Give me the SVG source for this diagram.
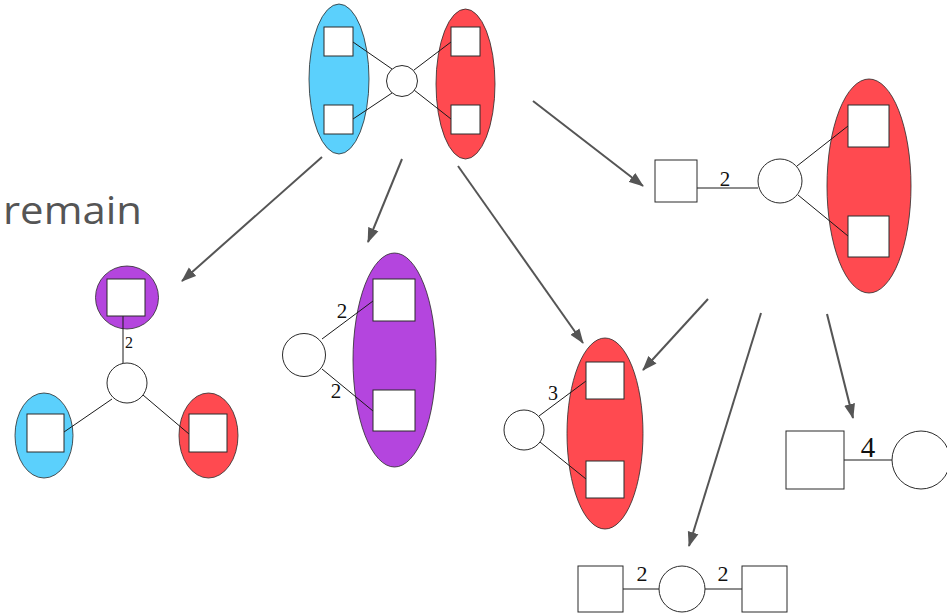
<svg xmlns="http://www.w3.org/2000/svg" width="947" height="613" viewBox="0 0 947 613">
  <style>
    .sq { fill: #ffffff; stroke: #2a2a2a; stroke-width: 1; }
    .ci { fill: #ffffff; stroke: #2a2a2a; stroke-width: 1; }
    .blue { fill: #5bd0fc; stroke: #2a2a2a; stroke-width: 0.8; }
    .red { fill: #ff4a50; stroke: #2a2a2a; stroke-width: 0.8; }
    .purple { fill: #b445de; stroke: #2a2a2a; stroke-width: 0.8; }
    .edge { stroke: #1a1a1a; stroke-width: 1; fill: none; }
    .lbl { font-family: "Liberation Serif", "DejaVu Serif", serif; fill: #111111; text-anchor: middle; }
    .arrow { stroke: #555555; stroke-width: 2; fill: none; marker-end: url(#head); }
  </style>
  <defs>
    <marker id="head" markerUnits="userSpaceOnUse" markerWidth="16" markerHeight="12" refX="14" refY="6" orient="auto">
      <path d="M0,0.5 L15,6 L0,11.5 z" fill="#555555"/>
    </marker>
  </defs>

  <rect width="947" height="613" fill="#ffffff"/>

  <text x="3" y="224" font-family="'Open Sans', 'DejaVu Sans', sans-serif" font-size="39" fill="#555555" textLength="139" lengthAdjust="spacingAndGlyphs">remain</text>

  <!-- top hypergraph: blue pair, circle, red pair -->
  <g id="top">
    <ellipse class="blue" cx="339" cy="79" rx="30" ry="75"/>
    <ellipse class="red" cx="465.5" cy="84" rx="29.5" ry="75"/>
    <line class="edge" x1="353" y1="42" x2="392" y2="69"/>
    <line class="edge" x1="353" y1="119" x2="392" y2="93"/>
    <line class="edge" x1="414" y1="70" x2="451" y2="42"/>
    <line class="edge" x1="414" y1="90" x2="451" y2="119"/>
    <rect class="sq" x="324" y="27" width="29" height="29"/>
    <rect class="sq" x="324" y="105" width="29" height="29"/>
    <rect class="sq" x="451" y="27" width="29" height="29"/>
    <rect class="sq" x="451" y="105" width="29" height="29"/>
    <circle class="ci" cx="402" cy="81" r="15.5"/>
  </g>

  <!-- right: square, circle, red pair -->
  <g id="right-top">
    <ellipse class="red" cx="869" cy="186" rx="42" ry="107"/>
    <line class="edge" x1="697" y1="188" x2="758" y2="188"/>
    <line class="edge" x1="797" y1="166" x2="848" y2="126"/>
    <line class="edge" x1="798" y1="195" x2="848" y2="236"/>
    <rect class="sq" x="655" y="160" width="42" height="42"/>
    <circle class="ci" cx="780" cy="181" r="22"/>
    <rect class="sq" x="848" y="105" width="41" height="42"/>
    <rect class="sq" x="848" y="216" width="41" height="41"/>
    <text class="lbl" x="725" y="186" font-size="21">2</text>
  </g>

  <!-- left: three-way star -->
  <g id="left-star">
    <circle class="purple" cx="127" cy="297.5" r="31.5"/>
    <ellipse class="blue" cx="44" cy="435.5" rx="29" ry="42.5"/>
    <ellipse class="red" cx="208.5" cy="435.5" rx="29.5" ry="42.5"/>
    <line class="edge" x1="123" y1="316" x2="123" y2="363"/>
    <line class="edge" x1="112" y1="399" x2="64" y2="432"/>
    <line class="edge" x1="143" y1="395" x2="189" y2="434"/>
    <rect class="sq" x="107" y="279" width="38" height="37"/>
    <rect class="sq" x="27" y="414" width="37" height="38"/>
    <rect class="sq" x="189" y="414" width="38" height="38"/>
    <circle class="ci" cx="127" cy="383" r="20"/>
    <text class="lbl" x="129" y="348" font-size="16">2</text>
  </g>

  <!-- middle: circle to purple pair -->
  <g id="mid-purple">
    <ellipse class="purple" cx="394.5" cy="360" rx="41.5" ry="107"/>
    <line class="edge" x1="322" y1="339" x2="373" y2="301"/>
    <line class="edge" x1="322" y1="369" x2="373" y2="411"/>
    <rect class="sq" x="373" y="279" width="42" height="42"/>
    <rect class="sq" x="373" y="390" width="42" height="41"/>
    <circle class="ci" cx="304" cy="355" r="21.5"/>
    <text class="lbl" x="342" y="318" font-size="21">2</text>
    <text class="lbl" x="336" y="398" font-size="21">2</text>
  </g>

  <!-- middle: circle to red pair -->
  <g id="mid-red">
    <ellipse class="red" cx="605" cy="433.5" rx="38" ry="95.5"/>
    <line class="edge" x1="539" y1="416" x2="586" y2="381"/>
    <line class="edge" x1="540" y1="442" x2="586" y2="479"/>
    <rect class="sq" x="586" y="362" width="38" height="37"/>
    <rect class="sq" x="586" y="461" width="38" height="37"/>
    <circle class="ci" cx="524" cy="430" r="20"/>
    <text class="lbl" x="553" y="400" font-size="20">3</text>
  </g>

  <!-- bottom: square, circle, square -->
  <g id="bottom">
    <line class="edge" x1="623" y1="589" x2="742" y2="589"/>
    <rect class="sq" x="578" y="566" width="45" height="46"/>
    <circle class="ci" cx="682" cy="589" r="23"/>
    <rect class="sq" x="742" y="566" width="45" height="46"/>
    <text class="lbl" x="642" y="581" font-size="22">2</text>
    <text class="lbl" x="723" y="581" font-size="22">2</text>
  </g>

  <!-- bottom right: square and circle -->
  <g id="right-bottom">
    <line class="edge" x1="844" y1="460" x2="892" y2="460"/>
    <rect class="sq" x="786" y="431" width="58" height="58"/>
    <circle class="ci" cx="921" cy="460" r="29"/>
    <text class="lbl" x="868" y="457" font-size="29">4</text>
  </g>

  <!-- transitions -->
  <g id="connectors">
    <line class="arrow" x1="322" y1="157" x2="182" y2="281"/>
    <line class="arrow" x1="402" y1="159" x2="368" y2="242"/>
    <line class="arrow" x1="458" y1="166" x2="583" y2="343"/>
    <line class="arrow" x1="533" y1="101" x2="643" y2="186"/>
    <line class="arrow" x1="708" y1="299" x2="643" y2="370"/>
    <line class="arrow" x1="761" y1="313" x2="689" y2="546"/>
    <line class="arrow" x1="827" y1="314" x2="853" y2="418"/>
  </g>
</svg>
